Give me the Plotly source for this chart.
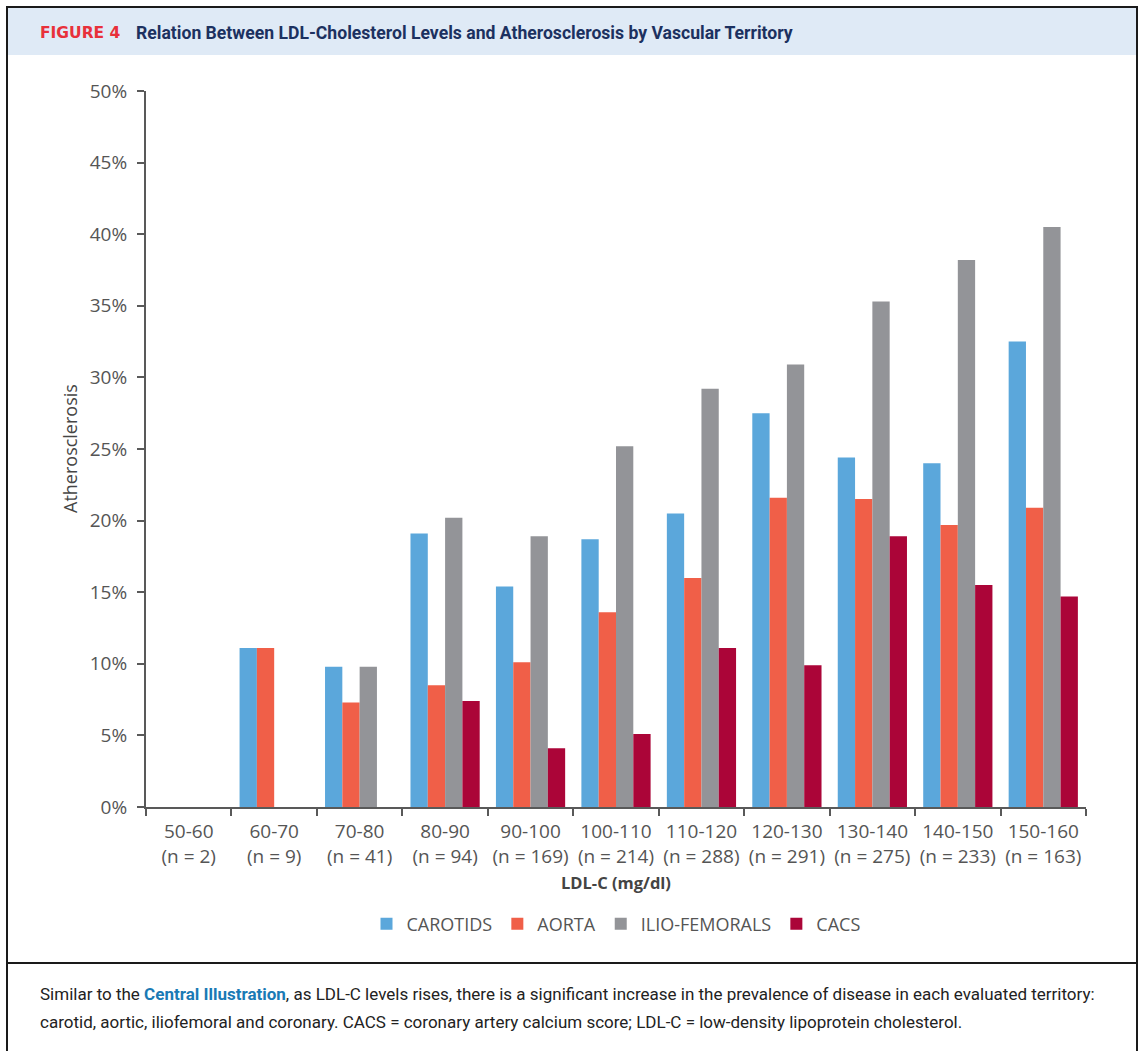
import plotly.graph_objects as go

# ---------------- data ----------------
ldl_ranges = ["50-60", "60-70", "70-80", "80-90", "90-100", "100-110",
              "110-120", "120-130", "130-140", "140-150", "150-160"]
n_counts = [2, 9, 41, 94, 169, 214, 288, 291, 275, 233, 163]

carotids = [0.0, 11.1, 9.8, 19.1, 15.4, 18.7, 20.5, 27.5, 24.4, 24.0, 32.5]
aorta = [0.0, 11.1, 7.3, 8.5, 10.1, 13.6, 16.0, 21.6, 21.5, 19.7, 20.9]
ilio_femorals = [0.0, 0.0, 9.8, 20.2, 18.9, 25.2, 29.2, 30.9, 35.3, 38.2, 40.5]
cacs = [0.0, 0.0, 0.0, 7.4, 4.1, 5.1, 11.1, 9.9, 18.9, 15.5, 14.7]

series_names = ["CAROTIDS", "AORTA", "ILIO-FEMORALS", "CACS"]
series_values = [carotids, aorta, ilio_femorals, cacs]
series_colors = ["#5ba7db", "#f05f48", "#939498", "#ab0538"]

y_ticks = [0, 5, 10, 15, 20, 25, 30, 35, 40, 45, 50]

# ---------------- layout geometry (pixels) ----------------
W, H = 1142, 1051
L, R, T, B = 146, 1086, 91, 807   # plot area


def px_x(px):
    return (px - L) / (R - L)


def px_y(py):
    return (B - py) / (B - T)


categories = [f"{r}<br>(n = {n})" for r, n in zip(ldl_ranges, n_counts)]

fig = go.Figure()
for name, vals, col in zip(series_names, series_values, series_colors):
    fig.add_trace(go.Bar(
        x=categories, y=vals, name=name,
        marker=dict(color=col, line=dict(width=0)),
        hoverinfo="x+y+name",
    ))

axis_col = "#595959"
tick_font = dict(family="Open Sans, Noto Sans, sans-serif", size=19, color="#555555")

fig.update_layout(
    width=W, height=H,
    template="none",
    paper_bgcolor="white", plot_bgcolor="white",
    margin=dict(l=L, r=W - R, t=T, b=H - B, pad=0),
    barmode="group", bargap=0.19, bargroupgap=0,
    showlegend=True,
    legend=dict(
        orientation="h", x=0.5, xanchor="center",
        y=px_y(924), yanchor="middle",
        font=dict(family="Open Sans, Noto Sans, sans-serif", size=18, color="#555555"),
        traceorder="normal",
        bgcolor="rgba(0,0,0,0)",
    ),
    xaxis=dict(
        type="category",
        showline=True, linecolor=axis_col, linewidth=2,
        ticks="outside", tickson="boundaries", ticklen=7, tickwidth=2, tickcolor=axis_col,
        showgrid=False, zeroline=False,
        tickfont=tick_font, tickangle=0, ticklabelstandoff=6,
        range=[-0.5, len(categories) - 0.5],
    ),
    yaxis=dict(
        range=[0, 50], tickvals=y_ticks,
        ticktext=[f"{v}%" for v in y_ticks],
        showline=True, linecolor=axis_col, linewidth=2,
        ticks="outside", ticklen=7, tickwidth=2, tickcolor=axis_col,
        showgrid=False, zeroline=False,
        tickfont=tick_font, ticklabelstandoff=6,
    ),
)

shapes = []
frame_col = "#1a1a1a"
# header band
shapes.append(dict(type="rect", xref="paper", yref="paper",
                   x0=px_x(7), x1=px_x(1137), y0=px_y(8), y1=px_y(55),
                   fillcolor="#dfeaf6", line=dict(width=0), layer="below"))
# top border
shapes.append(dict(type="line", xref="paper", yref="paper",
                   x0=px_x(6), x1=px_x(1138), y0=px_y(7), y1=px_y(7),
                   line=dict(color=frame_col, width=2)))
# left / right borders
for xx in (7, 1137):
    shapes.append(dict(type="line", xref="paper", yref="paper",
                       x0=px_x(xx), x1=px_x(xx), y0=px_y(7), y1=px_y(1052),
                       line=dict(color=frame_col, width=2)))
# divider above caption
shapes.append(dict(type="line", xref="paper", yref="paper",
                   x0=px_x(6), x1=px_x(1138), y0=px_y(963), y1=px_y(963),
                   line=dict(color=frame_col, width=2)))

annotations = []
annotations.append(dict(
    xref="paper", yref="paper", x=px_x(38), y=px_y(33),
    xanchor="left", yanchor="middle", showarrow=False,
    text="<b>FIGURE 4</b>",
    font=dict(family="DejaVu Sans, sans-serif", size=15.5, color="#e8303a"),
))
annotations.append(dict(
    xref="paper", yref="paper", x=px_x(134), y=px_y(33),
    xanchor="left", yanchor="middle", showarrow=False,
    text="<b>Relation Between LDL-Cholesterol Levels and Atherosclerosis by Vascular Territory</b>",
    font=dict(family="Roboto, sans-serif", size=17.6, color="#1c3160"),
))
annotations.append(dict(
    xref="paper", yref="paper", x=px_x(70), y=0.5,
    xanchor="center", yanchor="middle", showarrow=False, textangle=-90,
    text="Atherosclerosis",
    font=dict(family="Open Sans, Noto Sans, sans-serif", size=18, color="#454545"),
))
annotations.append(dict(
    xref="paper", yref="paper", x=0.5, y=px_y(882),
    xanchor="center", yanchor="middle", showarrow=False,
    text="<b>LDL-C (mg/dl)</b>",
    font=dict(family="Open Sans, Noto Sans, sans-serif", size=16.5, color="#444444"),
))
cap_font = dict(family="Roboto, sans-serif", size=17, color="#222222")
annotations.append(dict(
    xref="paper", yref="paper", x=px_x(38), y=px_y(994),
    xanchor="left", yanchor="middle", showarrow=False,
    text=("Similar to the <b><span style='color:#1a7ab5'>Central Illustration</span></b>, "
          "as LDL-C levels rises, there is a significant increase in the prevalence of "
          "disease in each evaluated territory:"),
    font=cap_font,
))
annotations.append(dict(
    xref="paper", yref="paper", x=px_x(38), y=px_y(1022),
    xanchor="left", yanchor="middle", showarrow=False,
    text=("carotid, aortic, iliofemoral and coronary. CACS = coronary artery calcium score; "
          "LDL-C = low-density lipoprotein cholesterol."),
    font=cap_font,
))

fig.update_layout(shapes=shapes, annotations=annotations)

fig.write_html("out.html",
               config={"displayModeBar": False},
               post_script="document.body.style.margin='0px';document.body.style.overflow='hidden';")
